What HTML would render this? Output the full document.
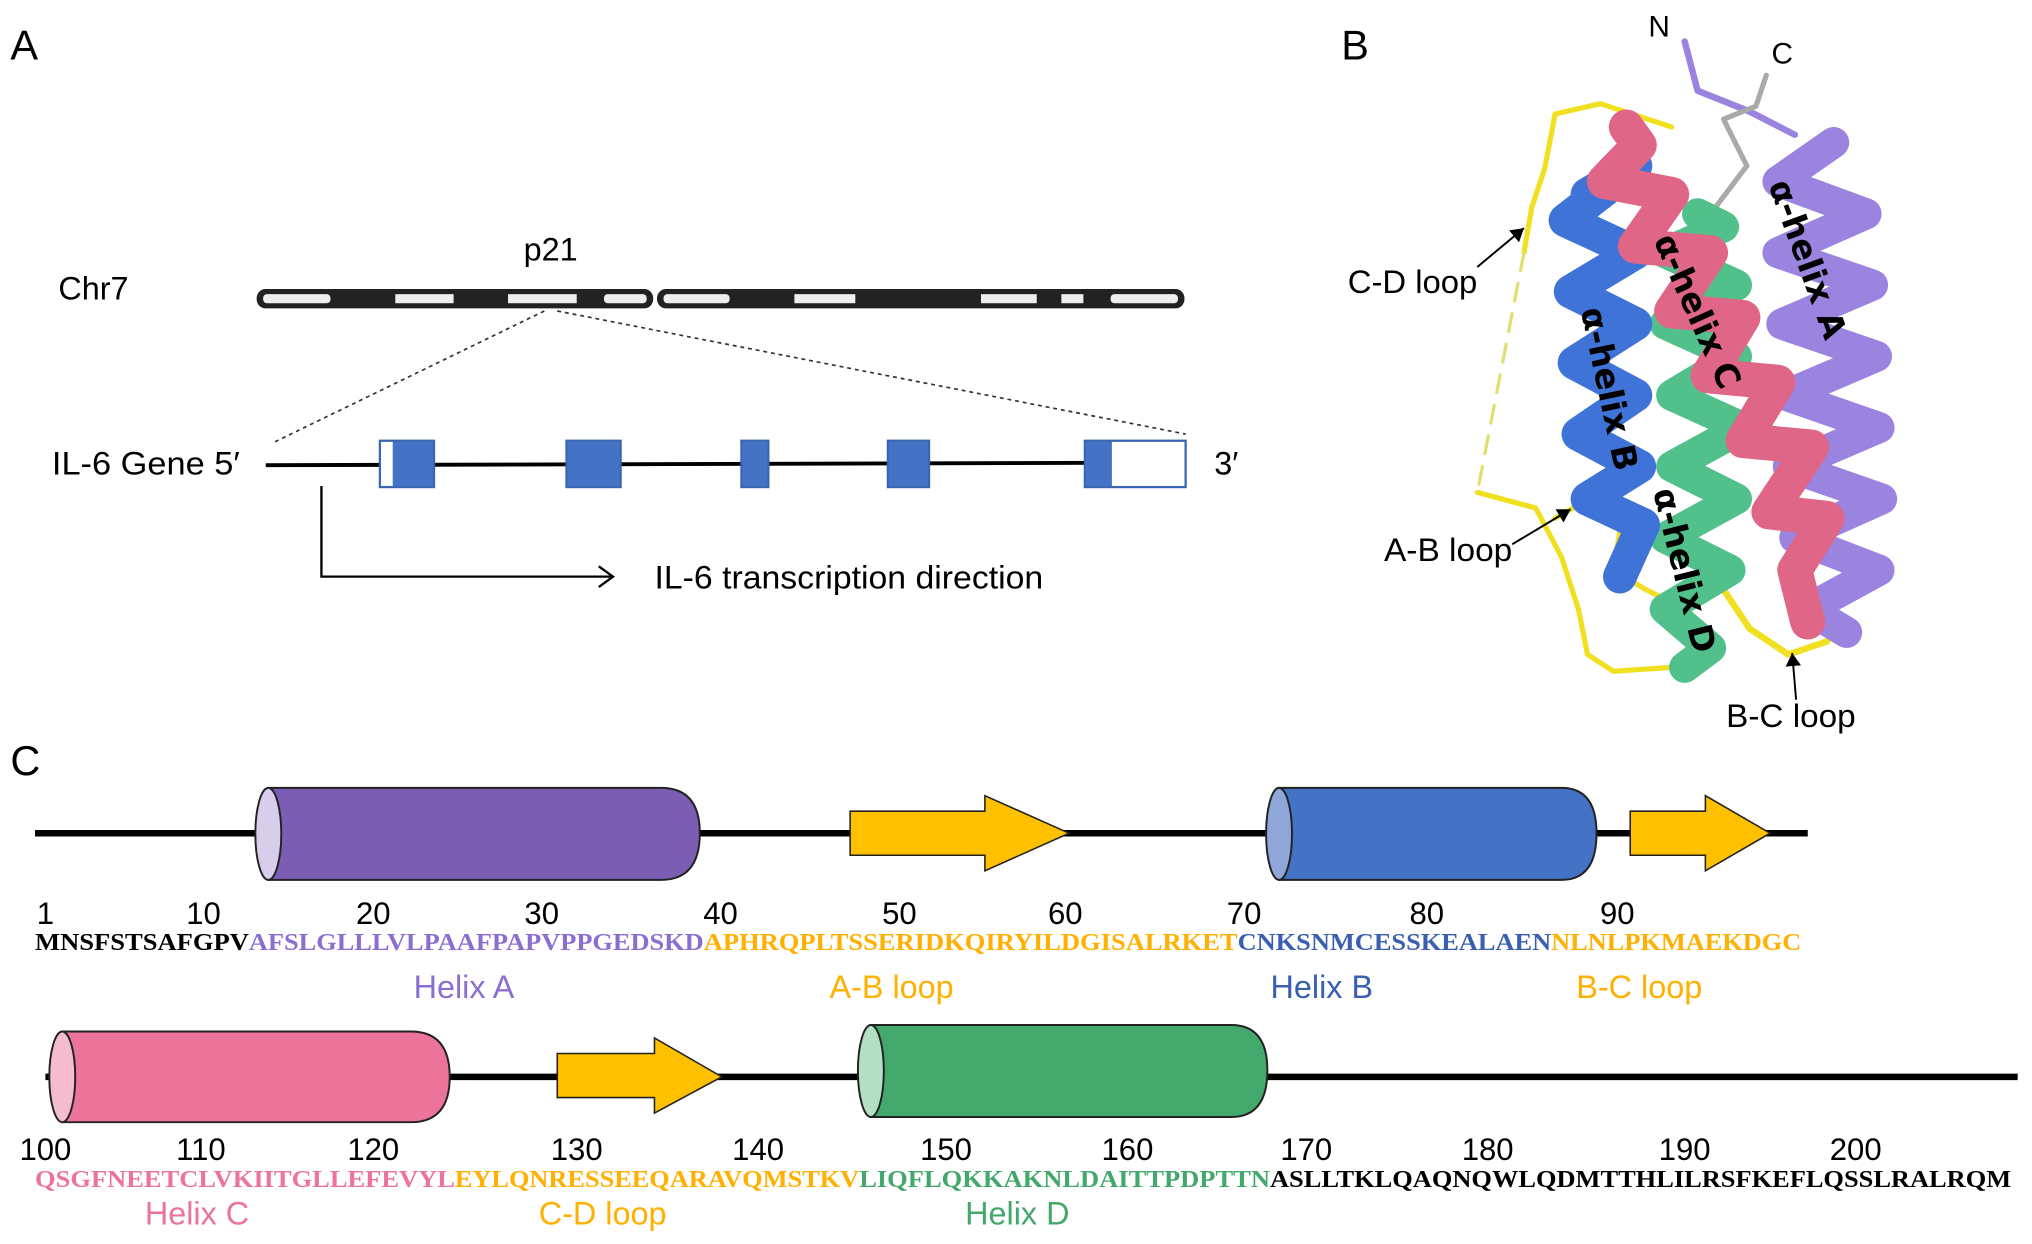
<!DOCTYPE html>
<html><head><meta charset="utf-8"><style>html,body{margin:0;padding:0;background:#fff}svg{display:block}</style></head>
<body>
<svg width="2032" height="1244" viewBox="0 0 1568 960" xmlns="http://www.w3.org/2000/svg" font-family="Liberation Sans, sans-serif">
<defs>
<marker id="ah" markerWidth="12" markerHeight="12" refX="10" refY="6" orient="auto" markerUnits="userSpaceOnUse"><path d="M0,0 L10,6 L0,12 Z" fill="#000"/></marker>
</defs>
<!-- Panel A -->
<text x="8" y="46" font-size="32">A</text>
<text x="45" y="231" font-size="25">Chr7</text>
<text x="404" y="201" font-size="25">p21</text>
<rect x="198" y="223" width="306" height="15" rx="7" fill="#222"/>
<rect x="507" y="223" width="407" height="15" rx="7" fill="#222"/>
<g fill="#eee">
<rect x="203" y="227" width="52" height="7" rx="3"/><rect x="305" y="227" width="45" height="7"/><rect x="392" y="227" width="53" height="7"/><rect x="466" y="227" width="33" height="7" rx="3"/>
<rect x="512" y="227" width="51" height="7" rx="3"/><rect x="613" y="227" width="47" height="7"/><rect x="757" y="227" width="43" height="7"/><rect x="819" y="227" width="17" height="7"/><rect x="857" y="227" width="52" height="7" rx="3"/>
</g>
<line x1="420" y1="240" x2="210" y2="342" stroke="#333" stroke-width="1.3" stroke-dasharray="3,3"/>
<line x1="430" y1="240" x2="915" y2="335" stroke="#333" stroke-width="1.3" stroke-dasharray="3,3"/>
<text x="40" y="366" font-size="25" textLength="145" lengthAdjust="spacingAndGlyphs">IL-6 Gene 5′</text>
<text x="937" y="366" font-size="25">3′</text>
<line x1="205" y1="359" x2="915" y2="357" stroke="#000" stroke-width="3"/>
<g fill="#4472c4" stroke="#3a64b0" stroke-width="1.5">
<rect x="293" y="340" width="42" height="36"/><rect x="437" y="340" width="42" height="36"/><rect x="572" y="340" width="21" height="36"/><rect x="685" y="340" width="32" height="36"/><rect x="837" y="340" width="78" height="36"/>
</g>
<rect x="294" y="341" width="9" height="34" fill="#fff"/>
<rect x="858" y="341" width="56" height="34" fill="#fff"/>
<polyline points="248,375 248,445 472,445" fill="none" stroke="#000" stroke-width="1.8"/>
<polyline points="462,437 473,445 462,453" fill="none" stroke="#000" stroke-width="1.8"/>
<text x="505" y="454" font-size="25" textLength="300" lengthAdjust="spacingAndGlyphs">IL-6 transcription direction</text>

<!-- Panel B -->
<text x="1035" y="46" font-size="32">B</text>
<text x="1272" y="28" font-size="23">N</text>
<text x="1367" y="49" font-size="23">C</text>
<g fill="none" stroke-linecap="round" stroke-linejoin="round">
<path d="M1300,32 L1310,70 L1350,86 L1385,104" stroke="#9b84e0" stroke-width="5"/>
<path d="M1363,58 L1355,82 L1330,92 L1348,128 L1320,165" stroke="#aaa" stroke-width="4"/>
<path d="M1290,98 L1235,80 L1200,88 L1192,130 L1182,160 L1176,195" stroke="#f0e020" stroke-width="4"/>
<path d="M1176,195 L1140,380" stroke="#e0e070" stroke-width="2.5" stroke-dasharray="14,10"/>
<path d="M1140,380 L1185,392 L1205,430 L1218,470 L1225,505 L1245,518 L1290,515" stroke="#f0e020" stroke-width="4"/>
<path d="M1200,400 L1235,380 L1250,410 L1245,440 L1270,455 L1300,470" stroke="#f0e020" stroke-width="4"/>
<path d="M1330,455 L1350,485 L1380,505 L1410,495 L1420,475 L1395,465" stroke="#f0e020" stroke-width="5"/>
<path d="M1415,110 L1372,140 L1440,165 L1372,195 L1445,220 L1375,250 L1448,275 L1378,305 L1450,330 L1380,360 L1452,385 L1385,415 L1450,440 L1395,470 L1425,488" stroke="#9b84e0" stroke-width="24"/>
<path d="M1310,165 L1330,175 L1285,195 L1340,220 L1285,250 L1340,275 L1290,305 L1345,330 L1290,360 L1340,385 L1285,415 L1335,440 L1285,470 L1320,500 L1300,515" stroke="#52c08a" stroke-width="24"/>
<path d="M1225,150 L1262,128 L1208,170 L1262,195 L1212,225 L1262,250 L1215,280 L1262,305 L1218,335 L1265,360 L1225,385 L1268,405 L1250,445" stroke="#3f73d8" stroke-width="26"/>
<path d="M1255,98 L1265,112 L1238,140 L1290,150 L1262,190 L1320,195 L1290,240 L1345,245 L1318,290 L1372,295 L1345,340 L1398,345 L1365,395 L1410,400 L1385,440 L1395,480" stroke="#e06688" stroke-width="27"/>
</g>
<g font-weight="bold" font-size="26" font-family="DejaVu Sans, sans-serif">
<text transform="translate(1242,300) rotate(78)" text-anchor="middle" dy="9">α-helix B</text>
<text transform="translate(1310,240) rotate(66)" text-anchor="middle" dy="9">α-helix C</text>
<text transform="translate(1395,200) rotate(70)" text-anchor="middle" dy="9">α-helix A</text>
<text transform="translate(1300,440) rotate(76)" text-anchor="middle" dy="9">α-helix D</text>
</g>
<text x="1040" y="226" font-size="25" textLength="100" lengthAdjust="spacingAndGlyphs">C-D loop</text>
<line x1="1140" y1="206" x2="1176" y2="176" stroke="#000" stroke-width="1.5" marker-end="url(#ah)"/>
<text x="1068" y="433" font-size="25" textLength="99" lengthAdjust="spacingAndGlyphs">A-B loop</text>
<line x1="1167" y1="420" x2="1212" y2="393" stroke="#000" stroke-width="1.5" marker-end="url(#ah)"/>
<text x="1332" y="561" font-size="25" textLength="100" lengthAdjust="spacingAndGlyphs">B-C loop</text>
<line x1="1386" y1="540" x2="1383" y2="504" stroke="#000" stroke-width="1.5" marker-end="url(#ah)"/>

<!-- Panel C -->
<text x="8" y="598" font-size="32">C</text>
<line x1="27" y1="643" x2="1395" y2="643" stroke="#000" stroke-width="5"/>
<path d="M207,608 H510 Q540,608 540,643 Q540,679 510,679 H207 Z" fill="#7b5db3" stroke="#222" stroke-width="1.5"/>
<ellipse cx="207" cy="643.5" rx="10" ry="35.5" fill="#d8cdea" stroke="#222" stroke-width="1.5"/>
<path d="M656,626 H760 V614 L825,643 L760,672 V660 H656 Z" fill="#ffc000" stroke="#222" stroke-width="1.2"/>
<path d="M987,608 H1205 Q1232,608 1232,643 Q1232,679 1205,679 H987 Z" fill="#4472c4" stroke="#222" stroke-width="1.5"/>
<ellipse cx="987" cy="643.5" rx="10" ry="35.5" fill="#8ea6d8" stroke="#222" stroke-width="1.5"/>
<path d="M1258,626 H1316 V614 L1366,643 L1316,672 V660 H1258 Z" fill="#ffc000" stroke="#222" stroke-width="1.2"/>
<g font-size="24" text-anchor="middle">
<text x="35" y="713">1</text><text x="157" y="713">10</text><text x="288" y="713">20</text><text x="418" y="713">30</text><text x="556" y="713">40</text><text x="694" y="713">50</text><text x="822" y="713">60</text><text x="960" y="713">70</text><text x="1101" y="713">80</text><text x="1248" y="713">90</text>
</g>
<g font-family="Liberation Serif, serif" font-weight="bold" font-size="19">
<text x="27" y="733" textLength="165" lengthAdjust="spacingAndGlyphs" fill="#000">MNSFSTSAFGPV</text>
<text x="192" y="733" textLength="351" lengthAdjust="spacingAndGlyphs" fill="#8b6fd0">AFSLGLLLVLPAAFPAPVPPGEDSKD</text>
<text x="543" y="733" textLength="412" lengthAdjust="spacingAndGlyphs" fill="#ffb000">APHRQPLTSSERIDKQIRYILDGISALRKET</text>
<text x="955" y="733" textLength="242" lengthAdjust="spacingAndGlyphs" fill="#3a5fb0">CNKSNMCESSKEALAEN</text>
<text x="1197" y="733" textLength="193" lengthAdjust="spacingAndGlyphs" fill="#ffb000">NLNLPKMAEKDGC</text>
</g>
<g font-size="25" text-anchor="middle">
<text x="358" y="770" fill="#8b6fd0">Helix A</text>
<text x="688" y="770" fill="#ffb000">A-B loop</text>
<text x="1020" y="770" fill="#3a5fb0">Helix B</text>
<text x="1265" y="770" fill="#ffb000">B-C loop</text>
</g>

<line x1="35" y1="831" x2="1557" y2="831" stroke="#000" stroke-width="5"/>
<path d="M48,796 H317 Q347,796 347,831 Q347,866 317,866 H48 Z" fill="#ec7399" stroke="#222" stroke-width="1.5"/>
<ellipse cx="48" cy="831" rx="10" ry="35" fill="#f5bcd0" stroke="#222" stroke-width="1.5"/>
<path d="M430,813 H505 V801 L557,831 L505,859 V847 H430 Z" fill="#ffc000" stroke="#222" stroke-width="1.2"/>
<path d="M672,791 H950 Q978,791 978,826 Q978,862 950,862 H672 Z" fill="#43a86b" stroke="#222" stroke-width="1.5"/>
<ellipse cx="672" cy="826.5" rx="10" ry="35.5" fill="#b3dfc4" stroke="#222" stroke-width="1.5"/>
<g font-size="24" text-anchor="middle">
<text x="35" y="895">100</text><text x="155" y="895">110</text><text x="288" y="895">120</text><text x="445" y="895">130</text><text x="585" y="895">140</text><text x="730" y="895">150</text><text x="870" y="895">160</text><text x="1008" y="895">170</text><text x="1148" y="895">180</text><text x="1300" y="895">190</text><text x="1432" y="895">200</text>
</g>
<g font-family="Liberation Serif, serif" font-weight="bold" font-size="19">
<text x="27" y="916" textLength="324" lengthAdjust="spacingAndGlyphs" fill="#ec7399">QSGFNEETCLVKIITGLLEFEVYL</text>
<text x="351" y="916" textLength="312" lengthAdjust="spacingAndGlyphs" fill="#ffb000">EYLQNRESSEEQARAVQMSTKV</text>
<text x="663" y="916" textLength="317" lengthAdjust="spacingAndGlyphs" fill="#43a86b">LIQFLQKKAKNLDAITTPDPTTN</text>
<text x="980" y="916" textLength="572" lengthAdjust="spacingAndGlyphs" fill="#000">ASLLTKLQAQNQWLQDMTTHLILRSFKEFLQSSLRALRQM</text>
</g>
<g font-size="25" text-anchor="middle">
<text x="152" y="945" fill="#ec7399">Helix C</text>
<text x="465" y="945" fill="#ffb000">C-D loop</text>
<text x="785" y="945" fill="#43a86b">Helix D</text>
</g>
</svg>
</body></html>
